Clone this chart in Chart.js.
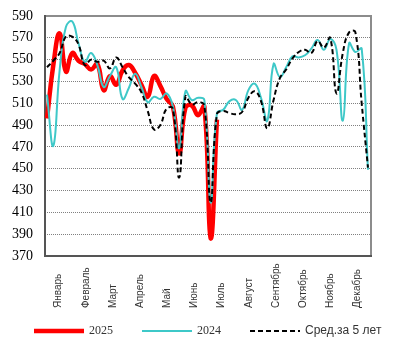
<!DOCTYPE html>
<html>
<head>
<meta charset="utf-8">
<script src="https://cdn.jsdelivr.net/npm/chart.js@4"></script>
<style>
  body { margin:0; background:#fff; }
  #wrap { width:393px; height:349px; }
</style>
</head>
<body>
<div id="wrap"><canvas id="chart"></canvas></div>
<script>
const months = ["Январь","Февраль","Март","Апрель","Май","Июнь","Июль","Август","Сентябрь","Октябрь","Ноябрь","Декабрь"];

const weeks = [];
for (let w = 1; w <= 52; w++) weeks.push(w);

const y2025 = [496,545,574,539,556,549,546,541,546,522,535,527,540,545,538,527,516,535,526,514,507,464,506,508,499,507,386,495];

const y2024 = [518,471,540,580,585,565,548,556,545,525,535,543,514,524,537,525,511,516,514,519,507,469,521,513,515,513,419,501,
  504,512,513,504,522,528,515,494,546,534,543,553,552,554,560,568,559,569,559,494,565,557,560,449];

const avg5 = [543,549,556,571,571,564,545,550,548,549,542,552,543,534,528,520,503,486,490,505,505,442,516,509,511,508,419,500,
  503,501,500,502,515,521,512,487,513,533,541,551,557,559,556,567,561,570,519,556,575,575,510,451];

const yTicks = [370,390,410,430,450,470,490,510,530,550,570,590];

// frame around the plot
const framePlugin = {
  id: 'frame',
  beforeDatasetsDraw(chart) {
    const a = chart.chartArea, ctx = chart.ctx;
    ctx.save();
    ctx.lineWidth = 2;
    ctx.strokeStyle = '#8c8c8c';
    ctx.beginPath();
    ctx.moveTo(a.left, a.top); ctx.lineTo(a.right, a.top); ctx.lineTo(a.right, a.bottom);
    ctx.stroke();
    ctx.strokeStyle = '#555';
    ctx.beginPath();
    ctx.moveTo(a.left, a.top - 1); ctx.lineTo(a.left, a.bottom); ctx.lineTo(a.right + 1, a.bottom);
    ctx.stroke();
    ctx.restore();
  }
};

// month names, rotated, starting from the bottom
const monthPlugin = {
  id: 'months',
  afterDraw(chart) {
    const sc = chart.scales.x, ctx = chart.ctx;
    ctx.save();
    ctx.font = '10px "Liberation Sans"';
    ctx.fillStyle = '#333';
    ctx.textAlign = 'left';
    ctx.textBaseline = 'middle';
    months.forEach((m, i) => {
      ctx.save();
      ctx.translate(sc.getPixelForValue(i), 308);
      ctx.rotate(-Math.PI / 2);
      ctx.fillText(m, 0, 0);
      ctx.restore();
    });
    ctx.restore();
  }
};

// legend row under the chart (2025 / 2024 in serif, average in sans)
const legendPlugin = {
  id: 'legendRow',
  afterDraw(chart) {
    const ctx = chart.ctx;
    const y = 331;
    const fonts = ['12px "Liberation Serif"', '12px "Liberation Serif"', '12px "Liberation Sans"'];
    let x = 34;
    ctx.save();
    ctx.textBaseline = 'middle';
    ctx.textAlign = 'left';
    chart.data.datasets.forEach((ds, i) => {
      ctx.strokeStyle = ds.borderColor;
      ctx.lineWidth = ds.borderWidth;
      ctx.setLineDash(ds.borderDash || []);
      ctx.beginPath();
      ctx.moveTo(x, y); ctx.lineTo(x + 50, y);
      ctx.stroke();
      ctx.setLineDash([]);
      ctx.font = fonts[i];
      ctx.fillStyle = '#333';
      ctx.fillText(ds.label, x + 55, y);
      x += 55 + ctx.measureText(ds.label).width + 29;
    });
    ctx.restore();
  }
};

new Chart(document.getElementById("chart"), {
  type: 'line',
  data: {
    labels: weeks,
    datasets: [
      { label: "2025", data: y2025, borderColor: "#ff0000", backgroundColor: "#ff0000",
        borderWidth: 4.5, order: 3, xAxisID: 'xw' },
      { label: "2024", data: y2024, borderColor: "#3ec8c8", backgroundColor: "#3ec8c8",
        borderWidth: 2, order: 2, xAxisID: 'xw' },
      { label: "Сред.за 5 лет", data: avg5, borderColor: "#000", backgroundColor: "#000",
        borderWidth: 2, borderDash: [5,3], order: 1, xAxisID: 'xw' }
    ]
  },
  options: {
    responsive: true,
    maintainAspectRatio: false,
    animation: false,
    layout: { padding: { top: 16, right: 22, bottom: 0, left: 0 } },
    elements: {
      point: { radius: 0 },
      line: { tension: 0.45, fill: false }
    },
    plugins: {
      tooltip: { enabled: false },
      legend: { display: false }
    },
    scales: {
      x: {
        type: 'category',
        labels: months,
        offset: true,
        grid: { display: false },
        border: { display: false },
        ticks: { display: false },
        afterFit: s => { s.height = 93; }
      },
      xw: {
        type: 'linear',
        display: false,
        min: 0.68,
        max: 52.48
      },
      y: {
        min: 370,
        max: 590,
        afterBuildTicks: s => { s.ticks = yTicks.map(v => ({ value: v })); },
        afterFit: s => { s.width = 45; s.paddingTop = 0; s.paddingBottom = 0; },
        border: { display: false, dash: [1,1] },
        grid: { color: '#808080', drawTicks: false },
        ticks: {
          padding: 12,
          color: '#000',
          font: { family: '"Liberation Serif"', size: 14 }
        }
      }
    }
  },
  plugins: [framePlugin, monthPlugin, legendPlugin]
});
</script>
</body>
</html>
